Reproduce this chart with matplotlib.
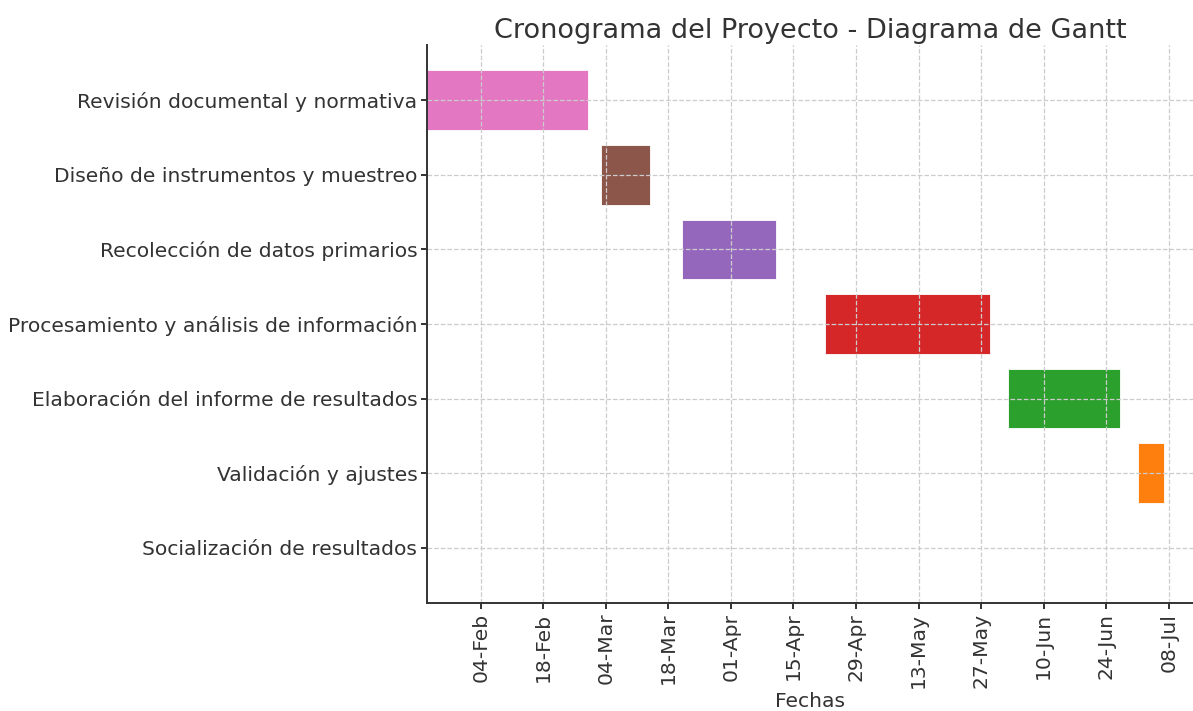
import datetime as dt
import matplotlib
matplotlib.use("Agg")
import matplotlib.pyplot as plt
import matplotlib.dates as mdates

# Tasks (top to bottom) with start / end dates
tasks = [
    "Revisión documental y normativa",
    "Diseño de instrumentos y muestreo",
    "Recolección de datos primarios",
    "Procesamiento y análisis de información",
    "Elaboración del informe de resultados",
    "Validación y ajustes",
    "Socialización de resultados",
]
starts = ["2025-01-23", "2025-03-03", "2025-03-21", "2025-04-22",
          "2025-06-02", "2025-07-01", "2025-07-14"]
ends = ["2025-02-28", "2025-03-14", "2025-04-11", "2025-05-29",
        "2025-06-27", "2025-07-07", "2025-07-14"]
colors = ["#e377c2", "#8c564b", "#9467bd", "#d62728",
          "#2ca02c", "#ff7f0e", "#1f77b4"]

start_num = [mdates.date2num(dt.date.fromisoformat(s)) for s in starts]
end_num = [mdates.date2num(dt.date.fromisoformat(e)) for e in ends]
widths = [e - s for s, e in zip(start_num, end_num)]
ypos = list(range(len(tasks) - 1, -1, -1))

text_color = "#333333"
plt.rcParams["text.color"] = text_color
plt.rcParams["axes.labelcolor"] = text_color
plt.rcParams["xtick.color"] = text_color
plt.rcParams["ytick.color"] = text_color

fig = plt.figure(figsize=(11.93, 7.11), dpi=100)
ax = fig.add_axes([427 / 1193, 1 - 603 / 711, (1193 - 427) / 1193, (603 - 45) / 711])

ax.barh(ypos, widths, left=start_num, height=0.8, color=colors,
        edgecolor="white", linewidth=0.6)

ax.set_yticks(ypos)
ax.set_yticklabels(tasks, fontsize=14.6)
ax.set_ylim(-0.74, 6.74)

ax.xaxis.set_major_locator(mdates.WeekdayLocator(byweekday=mdates.TU, interval=2))
ax.xaxis.set_major_formatter(mdates.DateFormatter("%d-%b"))
ax.set_xlim(mdates.date2num(dt.date(2025, 1, 23)), mdates.date2num(dt.date(2025, 1, 23)) + 171.4)
plt.setp(ax.get_xticklabels(), rotation=90, fontsize=14.6)

ax.set_xlabel("Fechas", fontsize=14.6, labelpad=3)
ax.set_title("Cronograma del Proyecto - Diagrama de Gantt", fontsize=19.5, pad=5)

ax.grid(True, linestyle="--", color="#cccccc", linewidth=0.9)
ax.spines["top"].set_visible(False)
ax.spines["right"].set_visible(False)
for s in ["left", "bottom"]:
    ax.spines[s].set_color(text_color)
    ax.spines[s].set_linewidth(1.4)
ax.tick_params(width=1.4, length=4, pad=3)

fig.savefig("out.png", dpi=100)
